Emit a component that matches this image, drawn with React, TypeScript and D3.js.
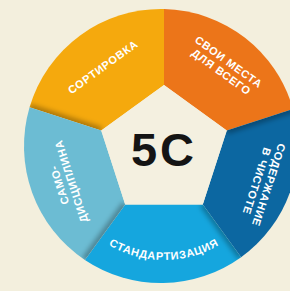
import { useMemo } from 'react';
import * as d3 from 'd3';

const width = 290;
const height = 291;

// five equal steps of the 5С circle, clockwise from the top-left
const steps = ['sort', 'place', 'shine', 'standard', 'discipline'];
const shares = [1, 1, 1, 1, 1];
const labels = [
    ['СОРТИРОВКА'],
    ['СВОИ МЕСТА', 'ДЛЯ ВСЕГО'],
    ['СОДЕРЖАНИЕ', 'В ЧИСТОТЕ'],
    ['СТАНДАРТИЗАЦИЯ'],
    ['САМО-', 'ДИСЦИПЛИНА'],
];
const colors = ['#f5a90d', '#ec7519', '#0c67a1', '#15a6de', '#6cbcd3'];
const centerTitle = '5С';

const bg = '#f3efdd';
const circle = { cx: 161, cy: 146, r: 137 };
const penta = { cx: 164, cy: 151, r: 66 };
const labelR = 104;

const toXY = (a: number, r: number, c = penta) => [c.cx + r * Math.sin(a), c.cy - r * Math.cos(a)];

// where the ray from the pentagon centre through angle a hits the outer circle
const outerHit = (a: number) => {
    const dx = Math.sin(a), dy = -Math.cos(a);
    const wx = penta.cx - circle.cx, wy = penta.cy - circle.cy;
    const b = wx * dx + wy * dy;
    const t = -b + Math.sqrt(b * b - (wx * wx + wy * wy - circle.r * circle.r));
    return [penta.cx + t * dx, penta.cy + t * dy];
};

export default function App() {
    const slices = useMemo(
        () => d3.pie<number>().sort(null).startAngle(-2 * Math.PI / 5).endAngle(8 * Math.PI / 5)(shares),
        []
    );

    const segPath = (a0: number, a1: number) => {
        const v0 = toXY(a0, penta.r), v1 = toXY(a1, penta.r);
        const p0 = outerHit(a0), p1 = outerHit(a1);
        let g0 = Math.atan2(p0[1] - circle.cy, p0[0] - circle.cx);
        let g1 = Math.atan2(p1[1] - circle.cy, p1[0] - circle.cx);
        if (g1 < g0) g1 += 2 * Math.PI;
        const p = d3.path();
        p.moveTo(v0[0], v0[1]);
        p.lineTo(p0[0], p0[1]);
        p.arc(circle.cx, circle.cy, circle.r, g0, g1, false);
        p.lineTo(v1[0], v1[1]);
        p.closePath();
        return p.toString();
    };

    const pentagon = d3.line()(slices.map(s => toXY(s.startAngle, penta.r) as [number, number])) + 'Z';

    // bottom label runs along an arc, left to right
    const bottomArc = (() => {
        const r = labelR + 5;
        const a = toXY(Math.PI + 0.8, r), b = toXY(Math.PI - 0.8, r);
        return `M${a[0]},${a[1]} A${r},${r} 0 0 0 ${b[0]},${b[1]}`;
    })();

    return (
        <svg width={width} height={height} style={{ position: 'absolute', left: 0, top: 0, background: bg }}
             fontFamily="'Liberation Sans', Arial, sans-serif">
            <defs>
                <filter id="soft" x="-50%" y="-50%" width="200%" height="200%">
                    <feGaussianBlur stdDeviation="2.5" />
                </filter>
                {slices.map((s, i) => (
                    <clipPath id={`clip-${steps[i]}`} key={i}>
                        <path d={segPath(s.startAngle, s.endAngle)} />
                    </clipPath>
                ))}
                <path id="bottom-arc" d={bottomArc} />
            </defs>
            <rect width={width} height={height} fill={bg} />
            {slices.map((s, i) => {
                const v = toXY(s.startAngle, penta.r), p = outerHit(s.startAngle);
                return (
                    <g key={steps[i]}>
                        <path d={segPath(s.startAngle, s.endAngle)} fill={colors[i]} />
                        <g clipPath={`url(#clip-${steps[i]})`}>
                            <line x1={v[0]} y1={v[1]} x2={p[0]} y2={p[1]} stroke="#000" strokeOpacity={0.3}
                                  strokeWidth={7} filter="url(#soft)" />
                        </g>
                    </g>
                );
            })}
            <path d={pentagon} fill="#f4f0e0" />
            {slices.map((s, i) => {
                const mid = (s.startAngle + s.endAngle) / 2;
                if (Math.abs(mid - Math.PI) < 0.1) {
                    return (
                        <text key={steps[i]} fill="#fff" fontSize={11} fontWeight="bold" letterSpacing={0.7}>
                            <textPath href="#bottom-arc" startOffset="50%" textAnchor="middle">{labels[i][0]}</textPath>
                        </text>
                    );
                }
                let deg = mid * 180 / Math.PI;
                if (deg > 180) deg -= 360;
                const [x, y] = toXY(mid, labelR);
                const n = labels[i].length;
                return (
                    <text key={steps[i]} transform={`translate(${x},${y}) rotate(${deg})`} fill="#fff"
                          fontSize={11} fontWeight="bold" letterSpacing={0.7} textAnchor="middle"
                          dominantBaseline="central">
                        {labels[i].map((t, k) => (
                            <tspan key={k} x={0} y={(k - (n - 1) / 2) * 12.5}>{t}</tspan>
                        ))}
                    </text>
                );
            })}
            <text x={penta.cx} y={166} textAnchor="middle" fontSize={47} fontWeight="bold" fill="#141414"
                  letterSpacing={3}>{centerTitle}</text>
        </svg>
    );
}
